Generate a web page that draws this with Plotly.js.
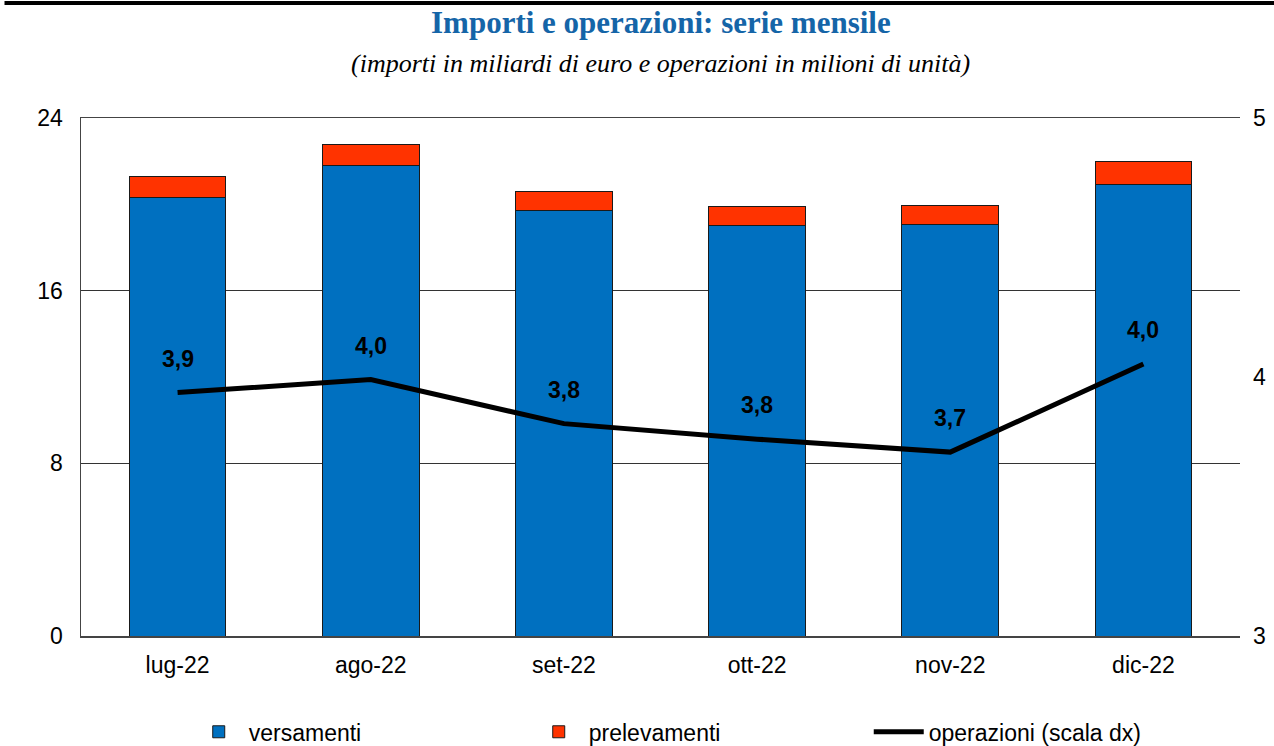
<!DOCTYPE html>
<html>
<head>
<meta charset="utf-8">
<script src="https://cdn.plot.ly/plotly-3.0.1.min.js"></script>
<style>
  html, body { margin: 0; padding: 0; background: #fff; }
  #chart { width: 1274px; height: 746px; }
</style>
</head>
<body>
<div id="chart"></div>
<script>
// months (x categories)
const mesi = ['lug-22', 'ago-22', 'set-22', 'ott-22', 'nov-22', 'dic-22'];
// importi, miliardi di euro (left axis)
const versamenti = [20.3, 21.8, 19.7, 19.0, 19.05, 20.9];
const prelevamenti = [1.0, 0.95, 0.9, 0.92, 0.9, 1.1];
// operazioni, milioni (right axis)
const operazioni = [3.94, 3.99, 3.82, 3.76, 3.71, 4.05];
const etichette = ['3,9', '4,0', '3,8', '3,8', '3,7', '4,0'];

const blu = '#0070C0';
const rosso = '#FF3300';
const font = 'Liberation Sans, Arial, sans-serif';
const serif = 'Liberation Serif, Times New Roman, serif';

const traceVers = {
  x: mesi, y: versamenti, type: 'bar', name: 'versamenti',
  marker: {color: blu, line: {color: '#1a1a1a', width: 1}},
  hoverinfo: 'skip'
};
const tracePrel = {
  x: mesi, y: prelevamenti, type: 'bar', name: 'prelevamenti',
  marker: {color: rosso, line: {color: '#1a1a1a', width: 1}},
  hoverinfo: 'skip'
};
const traceOper = {
  x: mesi, y: operazioni, type: 'scatter', mode: 'lines', yaxis: 'y2',
  name: 'operazioni (scala dx)',
  line: {color: '#000', width: 5},
  hoverinfo: 'skip'
};

// value labels above the line
const annotations = mesi.map((m, i) => ({
  x: m, y: operazioni[i], xref: 'x', yref: 'y2',
  text: '<b>' + etichette[i] + '</b>', showarrow: false,
  yshift: 34, font: {family: font, size: 23, color: '#000'}
}));

annotations.push({
  xref: 'paper', yref: 'paper', x: 0.5, y: 1, yshift: 96, yanchor: 'middle',
  text: '<b>Importi e operazioni: serie mensile</b>', showarrow: false,
  font: {family: serif, size: 31, color: '#1565A8'}
});
annotations.push({
  xref: 'paper', yref: 'paper', x: 0.5, y: 1, yshift: 55, yanchor: 'middle',
  text: '<i>(importi in miliardi di euro e operazioni in milioni di unità)</i>', showarrow: false,
  font: {family: serif, size: 26, color: '#000'}
});

const layout = {
  width: 1274, height: 746,
  margin: {l: 81, r: 34, t: 118, b: 110},
  paper_bgcolor: '#fff', plot_bgcolor: '#fff',
  barmode: 'stack', bargap: 0.5,
  showlegend: true,
  font: {family: font, size: 23, color: '#000'},
  xaxis: {
    type: 'category', showgrid: false, ticks: '',
    showline: true, mirror: true, linecolor: '#444', linewidth: 1.5,
    ticklabelstandoff: 8,
    tickfont: {family: font, size: 23}
  },
  yaxis: {
    range: [0, 24], tickvals: [0, 8, 16, 24], ticktext: ['0', '8', '16', '24'],
    showgrid: true, gridcolor: '#333', gridwidth: 1, zeroline: false,
    showline: true, linecolor: '#444', linewidth: 1.5, ticks: '',
    ticklabelstandoff: 12,
    tickfont: {family: font, size: 23}
  },
  yaxis2: {
    overlaying: 'y', side: 'right',
    range: [3, 5], tickvals: [3, 4, 5], ticktext: ['3', '4', '5'],
    showgrid: false, zeroline: false, ticks: '',
    ticklabelstandoff: 12,
    tickfont: {family: font, size: 23}
  },
  legend: {
    orientation: 'h', x: 0.533, xanchor: 'center',
    yref: 'container', y: 0.019, yanchor: 'middle',
    entrywidth: 275, entrywidthmode: 'pixels', itemwidth: 50,
    traceorder: 'normal',
    font: {family: font, size: 23, color: '#000'}
  },
  shapes: [{
    type: 'rect', xref: 'paper', yref: 'paper',
    x0: -0.066, x1: 1.03, y0: 1.218, y1: 1.226,
    fillcolor: '#000', line: {width: 0}
  }],
  annotations: annotations
};

Plotly.newPlot('chart', [traceVers, tracePrel, traceOper], layout, {displayModeBar: false, staticPlot: true});
</script>
</body>
</html>
